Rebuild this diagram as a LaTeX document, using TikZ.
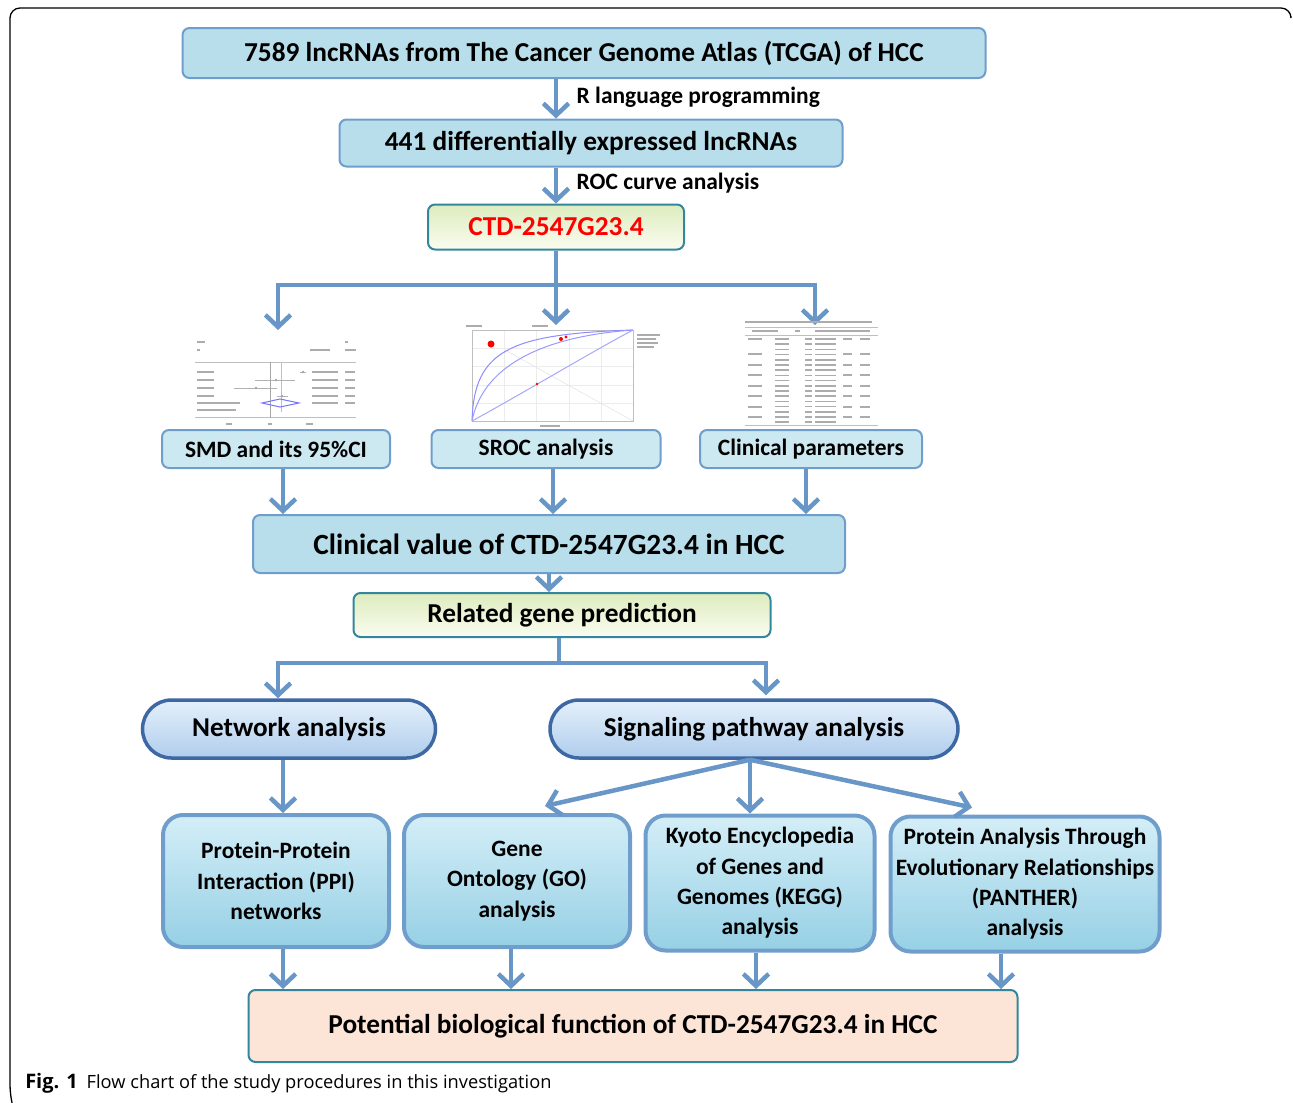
\documentclass[tikz,border=0pt]{standalone}
\usepackage{fontspec}
\setmainfont{Carlito}
\newfontfamily\capfont{Open Sans}
\usetikzlibrary{arrows.meta}
\newdimen\px \px=0.75pt
\definecolor{arrowc}{RGB}{104,150,198}
\definecolor{lineb}{RGB}{112,158,204}
\definecolor{fillb}{RGB}{183,222,234}
\definecolor{filllt}{RGB}{204,233,242}
\definecolor{subtop}{RGB}{212,238,247}
\definecolor{subbot}{RGB}{150,208,229}
\definecolor{pilltop}{RGB}{228,240,251}
\definecolor{pillbot}{RGB}{176,205,236}
\definecolor{pillline}{RGB}{62,104,164}
\definecolor{greentop}{RGB}{221,236,190}
\definecolor{greenbot}{RGB}{250,252,240}
\definecolor{tealline}{RGB}{52,134,156}
\definecolor{peach}{RGB}{252,229,214}
\definecolor{ctdred}{RGB}{255,0,0}
\begin{document}
\begin{tikzpicture}[x=1\px,y=-1\px,
  box/.style={draw=lineb,line width=2\px,rounded corners=7\px,fill=fillb,inner sep=0pt,font=\bfseries\fontsize{20.5}{24}\selectfont},
  smallbox/.style={box,fill=filllt,minimum width=228\px,minimum height=38\px,font=\bfseries\fontsize{17.6}{20}\selectfont},
  greenbox/.style={box,draw=tealline,top color=greentop,bottom color=greenbot},
  pill/.style={draw=pillline,line width=3.5\px,rounded corners=29\px,top color=pilltop,bottom color=pillbot,minimum height=58\px,font=\bfseries\fontsize{20.4}{24}\selectfont},
  subbox/.style={draw=lineb,line width=4\px,rounded corners=20\px,top color=subtop,bottom color=subbot,align=center,font=\bfseries\fontsize{17.6}{22.8}\selectfont},
  lab/.style={anchor=west,font=\bfseries\fontsize{17.6}{20}\selectfont},
  flow/.style={draw=arrowc,line width=4.5\px,-{Straight Barb[length=9pt,width=19pt]}},
  link/.style={draw=arrowc,line width=4.5\px},
  txt/.style={gray!65,line width=1.6\px},
  thin/.style={gray!50,line width=0.8\px}]
\useasboundingbox (0,0) rectangle (1293,1103);
\draw[line width=1.3\px,rounded corners=10\px] (12,1103) -- (10,1095) -- (10,8) -- (1291,8) -- (1291,16);

% main chain
\node (tcga) at (584,53) [box,minimum width=803\px,minimum height=50\px] {7589 lncRNAs from The Cancer Genome Atlas (TCGA) of HCC};
\node (deg) at (591,143) [box,minimum width=503\px,minimum height=47\px] {441 differentially expressed lncRNAs};
\node (ctd) at (556,227) [greenbox,minimum width=256\px,minimum height=45\px,text=ctdred] {CTD-2547G23.4};
\node (rlab) at (572,97) [lab] {R language programming};
\node (roclab) at (572,183) [lab] {ROC curve analysis};
\coordinate (m1) at (556,0);
\draw[flow] (tcga.south -| m1) -- (deg.north -| m1);
\draw[flow] (deg.south -| m1) -- (ctd.north);

% three lines of evidence
\coordinate (s1) at (556,285);
\coordinate (s1l) at (278,285);
\coordinate (s1r) at (815,285);
\coordinate (forest) at (278,330);
\coordinate (sroc) at (556,325);
\coordinate (table) at (815,325);
\draw[link] (ctd.south) -- (s1);
\draw[link,line cap=rect] (s1l) -- (s1r);
\draw[flow] (s1l) -- (forest);
\draw[flow] (s1) -- (sroc);
\draw[flow] (s1r) -- (table);

% forest plot
\draw[txt] (197,342) -- (205,342) (197,350) -- (200,350) (345,342) -- (348,342) (310,350) -- (330,350) (345,350) -- (356,350);
\draw[thin] (195,362) -- (356,362) (195,417) -- (356,417);
\foreach \yy in {372,380,388,396} {
  \draw[txt] (197,\yy) -- (214,\yy) (312,\yy) -- (338,\yy) (345,\yy) -- (355,\yy);
}
\draw[txt] (197,403) -- (240,403) (312,403) -- (338,403) (345,403) -- (355,403) (197,410) -- (236,410);
\draw[gray!70,line width=1\px] (270,362) -- (270,418);
\draw[gray!50,line width=0.7\px] (281,362) -- (281,412);
\draw[gray!60,line width=0.8\px] (300,372) -- (306,372) (255,380) -- (295,380) (234,388) -- (277,388) (277,396) -- (288,396);
\fill[gray!70] (303,372) circle (1.3) (276,380) circle (1.3) (256,388) circle (1.3) (282,396) circle (1.5);
\draw[blue!55,line width=1\px] (262,403) -- (280,399) -- (299,403) -- (280,407) -- cycle;
\draw[txt] (226,424) -- (232,424) (268,424) -- (272,424) (306,424) -- (313,424);

% SROC plot
\draw[thin,gray!15] (504,330) -- (504,421) (536,330) -- (536,421) (569,330) -- (569,421) (601,330) -- (601,421)
  (472,348) -- (633,348) (472,366) -- (633,366) (472,385) -- (633,385) (472,403) -- (633,403);
\draw[gray!20,line width=0.6\px] (505,350) -- (633,421);
\draw[thin] (472,330) rectangle (633,421);
\draw[blue!45,line width=1\px] (472,421) .. controls (474,350) and (510,334) .. (633,330);
\draw[blue!40,line width=1\px] (472,421) .. controls (482,370) and (535,337) .. (633,330);
\draw[blue!35,line width=1\px] (472,421) .. controls (525,392) and (595,350) .. (633,330);
\fill[red] (491,344) circle (3.5) (561,339) circle (2) (566,337) circle (1.6) (537,384) circle (1.3);
\draw[txt] (466,326) -- (482,326) (532,326) -- (548,326) (540,426) -- (560,426)
  (637,335) -- (660,335) (637,339) -- (656,339) (637,343) -- (658,343) (637,347) -- (654,347);

% clinical table
\draw[txt] (745,322) -- (872,322);
\draw[thin] (745,327) -- (878,327) (745,335) -- (878,335) (745,425) -- (878,425);
\draw[txt] (752,331) -- (778,331) (795,331) -- (800,331) (815,331) -- (870,331);
\foreach \i in {0,...,16} {
  \draw[txt] (805,339+5.2*\i) -- (812,339+5.2*\i) (815,339+5.2*\i) -- (836,339+5.2*\i);
  \draw[txt] (775,339+5.2*\i) -- (789,339+5.2*\i);
}
\foreach \yy in {339,354,365,375,386,396,407,417} {
  \draw[txt] (748,\yy) -- (762,\yy) (843,\yy) -- (852,\yy) (860,\yy) -- (870,\yy);
}

% evidence boxes
\node (smd) at (276,449) [smallbox] {SMD and its 95\%CI};
\node (sroca) at (546,449) [smallbox,minimum width=229\px] {SROC analysis};
\node (clin) at (811,449) [smallbox,minimum width=222\px] {Clinical parameters};
\node (cval) at (549,544) [box,minimum width=592\px,minimum height=58\px,font=\bfseries\fontsize{22}{26}\selectfont] {Clinical value of CTD-2547G23.4 in HCC};
\draw[flow] ([xshift=7\px]smd.south) -- ([xshift=7\px]smd.south |- cval.north);
\draw[flow] ([xshift=7\px]sroca.south) -- ([xshift=7\px]sroca.south |- cval.north);
\draw[flow] ([xshift=-5\px]clin.south) -- ([xshift=-5\px]clin.south |- cval.north);

% gene prediction
\node (rel) at (562,615) [greenbox,minimum width=417\px,minimum height=44\px] {Related gene prediction};
\draw[flow] (cval.south) -- (cval.south |- rel.north);
\node (net) at (289,729) [pill,minimum width=293\px] {Network analysis};
\node (sig) at (754,729) [pill,minimum width=408\px] {Signaling pathway analysis};
\coordinate (s2) at (559,663);
\coordinate (s2l) at (278,663);
\coordinate (s2r) at (766,663);
\draw[link] (rel.south -| s2) -- (s2);
\draw[link,line cap=rect] (s2l) -- (s2r);
\draw[flow] (s2l) -- (s2l |- net.north);
\draw[flow] (s2r) -- ([yshift=3\px]s2r |- sig.north);

% analyses
\node (ppi) at (276,881) [subbox,minimum width=226\px,minimum height=132\px] {Protein-Protein\\Interaction (PPI)\\networks};
\node (go) at (517,881) [subbox,minimum width=226\px,minimum height=132\px] {Gene\\Ontology (GO)\\analysis};
\node (kegg) at (760,883) [subbox,minimum width=229\px,minimum height=135\px] {Kyoto Encyclopedia\\of Genes and\\Genomes (KEGG)\\analysis};
\node (panther) at (1025,884) [subbox,minimum width=269\px,minimum height=135\px] {Protein Analysis Through\\Evolutionary Relationships\\(PANTHER)\\analysis};
\draw[flow] ([xshift=-6\px]net.south) -- ([xshift=-6\px]net.south |- ppi.north);
\draw[flow] ([xshift=-4\px]sig.south) -- ([xshift=28\px,yshift=7\px]go.north);
\draw[flow] ([xshift=-4\px]sig.south) -- ([xshift=-10\px]kegg.north);
\draw[flow] ([xshift=-4\px]sig.south) -- ([xshift=-53\px,yshift=7\px]panther.north);

% outcome
\node (fin) at (633,1026) [box,draw=tealline,fill=peach,minimum width=769\px,minimum height=72\px,font=\bfseries\fontsize{20.5}{24}\selectfont] {Potential biological function of CTD-2547G23.4 in HCC};
\draw[flow] ([xshift=7\px]ppi.south) -- ([xshift=7\px]ppi.south |- fin.north);
\draw[flow] ([xshift=-6\px]go.south) -- ([xshift=-6\px]go.south |- fin.north);
\draw[flow] ([xshift=-4\px]kegg.south) -- ([xshift=-4\px]kegg.south |- fin.north);
\draw[flow] ([xshift=-24\px]panther.south) -- ([xshift=-24\px]panther.south |- fin.north);

\node (cap) at (25,1083) [anchor=west,inner sep=0pt,font=\capfont\fontsize{13.7}{16}\selectfont] {\textbf{\fontsize{15}{16}\selectfont Fig. 1}\hspace{9\px}Flow chart of the study procedures in this investigation};
\end{tikzpicture}
\end{document}
